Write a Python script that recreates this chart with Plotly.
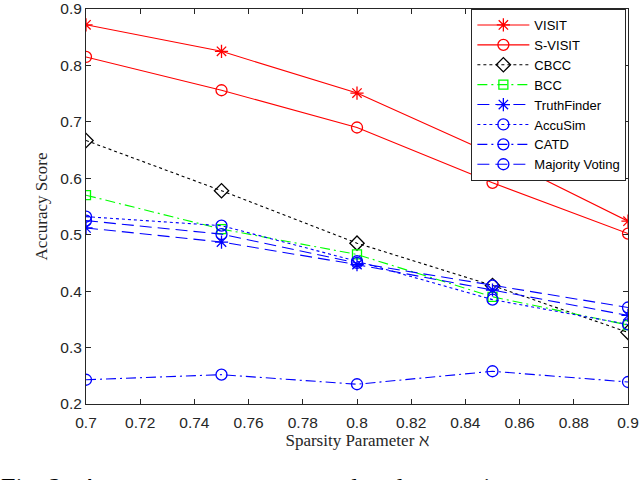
import plotly.graph_objects as go

x_vals = [0.7, 0.75, 0.8, 0.85, 0.9]

visit = [0.872, 0.825, 0.751, 0.643, 0.524]
s_visit = [0.815, 0.756, 0.690, 0.592, 0.502]
cbcc = [0.667, 0.578, 0.485, 0.410, 0.327]
bcc = [0.570, 0.510, 0.465, 0.390, 0.340]
truthfinder = [0.512, 0.487, 0.447, 0.402, 0.357]
accusim = [0.532, 0.516, 0.453, 0.385, 0.341]
catd = [0.243, 0.252, 0.235, 0.258, 0.239]
majority = [0.525, 0.501, 0.450, 0.410, 0.371]

x_ticks = [0.7, 0.72, 0.74, 0.76, 0.78, 0.8, 0.82, 0.84, 0.86, 0.88, 0.9]
x_tick_text = ["0.7", "0.72", "0.74", "0.76", "0.78", "0.8", "0.82", "0.84", "0.86", "0.88", "0.9"]
y_ticks = [0.2, 0.3, 0.4, 0.5, 0.6, 0.7, 0.8, 0.9]
y_tick_text = ["0.2", "0.3", "0.4", "0.5", "0.6", "0.7", "0.8", "0.9"]

RED = "#FF0000"
GREEN = "#00FF00"
BLUE = "#0000FF"
BLACK = "#000000"

series = [
    ("VISIT", visit, RED, "solid", "asterisk-open", 11),
    ("S-VISIT", s_visit, RED, "solid", "circle-open", 11),
    ("CBCC", cbcc, BLACK, "dot", "diamond-open", 11),
    ("BCC", bcc, GREEN, "10px,4px,2px,4px", "square-open", 9),
    ("TruthFinder", truthfinder, BLUE, "12px,6px", "asterisk-open", 11),
    ("AccuSim", accusim, BLUE, "dot", "circle-open", 11),
    ("CATD", catd, BLUE, "10px,4px,2px,4px", "circle-open", 11),
    ("Majority Voting", majority, BLUE, "12px,6px", "circle-open", 11),
]

fig = go.Figure()
for name, vals, color, dash, sym, size in series:
    fig.add_trace(go.Scatter(
        x=x_vals, y=vals, name=name, mode="lines+markers",
        line=dict(color=color, width=1.1, dash=dash),
        marker=dict(symbol=sym, size=size, color=color, line=dict(width=1.3, color=color)),
    ))

axis_color = "#262626"
fig.update_layout(
    template="none",
    width=640, height=480,
    margin=dict(l=86, r=12, t=9, b=76, pad=0),
    plot_bgcolor="white", paper_bgcolor="white",
    font=dict(family="Liberation Sans, Arial, sans-serif", size=15, color=axis_color),
    showlegend=True,
    legend=dict(
        x=0.997, y=1.0, xanchor="right", yanchor="top",
        bgcolor="white", bordercolor=axis_color, borderwidth=1,
        font=dict(family="Liberation Sans, Arial, sans-serif", size=13, color="#000000"),
        tracegroupgap=0, itemwidth=52,
    ),
    xaxis=dict(
        range=[0.7, 0.9], tickvals=x_ticks, ticktext=x_tick_text,
        ticks="inside", ticklen=5, tickcolor=axis_color,
        showline=True, linecolor=axis_color, linewidth=1, mirror="ticks",
        showgrid=False, zeroline=False, automargin=False, ticklabeloverflow="allow",
        ticklabelstandoff=4,
        tickfont=dict(size=15.5, color=axis_color),
        title=dict(text="Sparsity Parameter ℵ", font=dict(family="Liberation Serif, Times New Roman, serif", size=17, color=axis_color), standoff=4),
    ),
    yaxis=dict(
        range=[0.2, 0.9], tickvals=y_ticks, ticktext=y_tick_text,
        ticks="inside", ticklen=5, tickcolor=axis_color,
        showline=True, linecolor=axis_color, linewidth=1, mirror="ticks",
        showgrid=False, zeroline=False, automargin=False, ticklabeloverflow="allow",
        tickfont=dict(size=15.5, color=axis_color),
        title=dict(text="Accuracy Score", font=dict(family="Liberation Serif, Times New Roman, serif", size=17, color=axis_color), standoff=8),
    ),
)

fig.add_annotation(
    text="Fig. 2:  Accuracy scores measured under sparsity parameter varying in the",
    xref="paper", yref="paper", x=-0.16, y=-0.17, xanchor="left", yanchor="top",
    showarrow=False, font=dict(family="Liberation Serif, Times New Roman, serif", size=26, color="#000000"),
)

fig.write_html(
    "out.html",
    config={"displayModeBar": False},
    post_script="document.body.style.margin='0';document.body.style.overflow='hidden';",
)
